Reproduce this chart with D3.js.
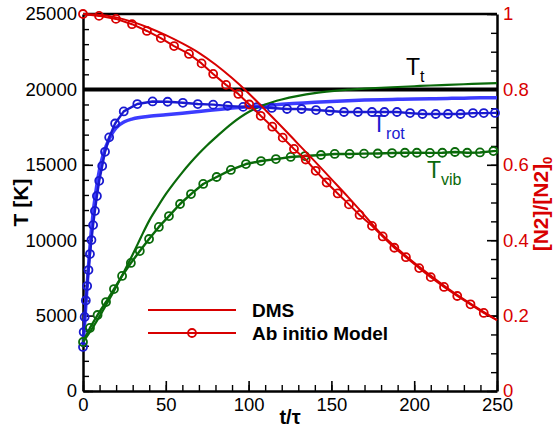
<!DOCTYPE html>
<html>
<head>
<meta charset="utf-8">
<script src="https://cdn.jsdelivr.net/npm/d3@7"></script>
<style>
  body { margin: 0; background: #fff; }
  text { font-family: "Liberation Sans", Arial, sans-serif; }
</style>
</head>
<body>
<svg id="chart"></svg>
<script>
// tick values
var tTicks = [0, 50, 100, 150, 200, 250];
var tempTicks = [0, 5000, 10000, 15000, 20000, 25000];
var fracTicks = [0, 0.2, 0.4, 0.6, 0.8, 1];

// T_t (DMS) - noisy around 20000
var ttT = [0, 50, 100, 150, 200, 250];
var ttVal = [20000, 20000, 20000, 20000, 20000, 20000];

// T_rot, DMS
var dmsRotT = [0, 1, 2, 3, 4, 5, 6, 7, 8, 10, 12, 14, 16, 18, 20, 25, 30, 40, 50, 60, 70, 80, 90, 100, 110, 120, 130, 140, 150, 160, 170, 180, 190, 200, 210, 220, 230, 240, 250];
var dmsRot = [2920, 4500, 6200, 7800, 9300, 10600, 11700, 12600, 13400, 14700, 15600, 16250, 16750, 17150, 17450, 17850, 18050, 18220, 18320, 18420, 18540, 18650, 18760, 18850, 18930, 19010, 19080, 19150, 19200, 19250, 19290, 19320, 19340, 19360, 19380, 19400, 19420, 19440, 19450];

// T_vib, DMS
var dmsVibT = [0, 5, 10, 15, 20, 25, 30, 35, 40, 45, 50, 55, 60, 65, 70, 75, 80, 90, 100, 110, 120, 130, 140, 150, 160, 170, 180, 190, 200, 210, 220, 230, 240, 250];
var dmsVib = [3250, 4050, 4950, 5900, 6900, 7950, 9050, 10200, 11300, 12200, 13050, 13800, 14500, 15150, 15750, 16300, 16800, 17750, 18500, 19000, 19330, 19570, 19750, 19880, 19980, 20050, 20110, 20160, 20210, 20260, 20300, 20340, 20380, 20420];

// [N2]/[N2]0, DMS
var dmsN2T = [0, 10, 20, 30, 40, 50, 60, 70, 80, 90, 100, 110, 120, 130, 140, 150, 160, 170, 180, 190, 200, 210, 220, 230, 240, 250];
var dmsN2 = [1.0, 0.998, 0.991, 0.979, 0.963, 0.944, 0.922, 0.897, 0.866, 0.830, 0.790, 0.746, 0.701, 0.655, 0.609, 0.562, 0.515, 0.466, 0.417, 0.377, 0.340, 0.306, 0.273, 0.243, 0.215, 0.188];

// T_rot, ab initio model
var abRotT = [0, 0.4, 1.0, 1.7, 2.5, 3.3, 4.2, 5.1, 6.1, 7.2, 8.4, 9.8, 11.6, 13.3, 15.8, 19.4, 24.6, 32.8, 42, 51.1, 60.3, 69.3, 78.6, 87.4, 96.7, 105, 114, 123.2, 132, 140.7, 149, 157.6, 166, 174.5, 182, 189.6, 197.5, 205, 213, 220.4, 228, 235.5, 242, 248.8, 250];
var abRot = [2920, 3910, 4910, 6000, 6960, 8020, 9080, 10010, 11000, 11940, 12930, 13940, 14920, 15860, 16820, 17740, 18540, 19030, 19200, 19180, 19110, 19030, 18990, 18910, 18840, 18830, 18770, 18700, 18700, 18630, 18570, 18500, 18500, 18500, 18500, 18500, 18430, 18370, 18370, 18370, 18370, 18430, 18430, 18440, 18440];

// T_vib, ab initio model
var abVibT = [0, 4.2, 8.8, 13.9, 18.7, 23.6, 28.9, 34.3, 39.9, 45.8, 51.9, 58.6, 65.2, 72.6, 80.7, 89.3, 98.4, 107.5, 116.5, 125.4, 134, 143.7, 152, 161, 169.7, 178, 186.6, 194.4, 201.6, 209.5, 217, 224.6, 232, 239.7, 247.8, 250];
var abVib = [3250, 4180, 5040, 5900, 6760, 7630, 8490, 9280, 10080, 10880, 11600, 12400, 13060, 13730, 14190, 14660, 15050, 15250, 15380, 15520, 15580, 15650, 15720, 15720, 15740, 15750, 15780, 15800, 15800, 15790, 15800, 15850, 15800, 15820, 15910, 15920];

// [N2]/[N2]0, ab initio model
var abN2T = [0, 9.7, 19.9, 29.6, 38.6, 47, 55, 64, 71.6, 78.6, 86.4, 93.8, 100.4, 107.3, 114.3, 120.6, 127.4, 134.5, 140.5, 147.1, 153.8, 160.6, 167, 174.5, 181, 188, 195, 203, 210, 218, 226, 234, 242, 250];
var abN2 = [1.0, 0.995, 0.987, 0.973, 0.955, 0.936, 0.915, 0.894, 0.869, 0.841, 0.812, 0.788, 0.760, 0.730, 0.701, 0.672, 0.642, 0.614, 0.584, 0.553, 0.524, 0.495, 0.467, 0.438, 0.41, 0.38, 0.355, 0.326, 0.302, 0.276, 0.252, 0.23, 0.207, 0.188];

var width = 557;
var height = 436;
var margin = { top: 14, right: 60, bottom: 45, left: 83 };

var RED = "#d80000", BLUE_L = "#3c3cff", BLUE_D = "#1a1ad0", GREEN = "#0a6a0a";

var xScale = d3.scaleLinear().domain([0, 250]).range([margin.left, width - margin.right]);
var yScale = d3.scaleLinear().domain([0, 25000]).range([height - margin.bottom, margin.top]);
var nScale = d3.scaleLinear().domain([0, 1]).range([height - margin.bottom, margin.top]);

var svg = d3.select("#chart")
            .attr("width", width)
            .attr("height", height);

function zip(ts, vs) {
  return ts.map(function(t, i) { return { t: t, v: vs[i] }; });
}

function styleAxis(g, color) {
  g.select(".domain").attr("stroke", "#000").attr("stroke-width", 2.5);
  g.selectAll(".tick line").attr("stroke", "#000").attr("stroke-width", 1.6);
  g.selectAll(".tick text")
    .attr("fill", color)
    .style("font-size", "18.5px")
    .style("font-family", "'Liberation Sans', Arial, sans-serif");
}

function range(a, b, step) {
  var out = [];
  for (var v = a; v <= b + 1e-9; v += step) out.push(+v.toFixed(4));
  return out;
}

// minor ticks
svg.append("g")
   .attr("transform", "translate(0," + (height - margin.bottom) + ")")
   .call(d3.axisBottom(xScale).tickValues(range(0, 250, 10)).tickSizeInner(-6).tickSizeOuter(0).tickFormat(""))
   .call(function(g) { g.select(".domain").remove(); g.selectAll("line").attr("stroke-width", 1.4); });
svg.append("g")
   .attr("transform", "translate(" + margin.left + ",0)")
   .call(d3.axisLeft(yScale).tickValues(range(0, 25000, 1000)).tickSizeInner(-6).tickSizeOuter(0).tickFormat(""))
   .call(function(g) { g.select(".domain").remove(); g.selectAll("line").attr("stroke-width", 1.4); });
svg.append("g")
   .attr("transform", "translate(" + (width - margin.right) + ",0)")
   .call(d3.axisRight(nScale).tickValues(range(0, 1, 0.05)).tickSizeInner(-6).tickSizeOuter(0).tickFormat(""))
   .call(function(g) { g.select(".domain").remove(); g.selectAll("line").attr("stroke-width", 1.4); });

// major axes
svg.append("g")
   .attr("transform", "translate(0," + (height - margin.bottom) + ")")
   .call(d3.axisBottom(xScale).tickValues(tTicks).tickSizeInner(-10).tickSizeOuter(0).tickPadding(7))
   .call(function(g) { styleAxis(g, "#000"); });
svg.append("g")
   .attr("transform", "translate(" + margin.left + ",0)")
   .call(d3.axisLeft(yScale).tickValues(tempTicks).tickSizeInner(-10).tickSizeOuter(0).tickPadding(6)
         .tickFormat(d3.format("d")))
   .call(function(g) { styleAxis(g, "#000"); });
svg.append("g")
   .attr("transform", "translate(" + (width - margin.right) + ",0)")
   .call(d3.axisRight(nScale).tickValues(fracTicks).tickSizeInner(-10).tickSizeOuter(0).tickPadding(6)
         .tickFormat(function(d) { return d3.format("")(d); }))
   .call(function(g) { styleAxis(g, RED); });

// top frame line
svg.append("line")
   .attr("x1", xScale(0)).attr("x2", xScale(250))
   .attr("y1", yScale(25000)).attr("y2", yScale(25000))
   .attr("stroke", "#000").attr("stroke-width", 2.5);

var lineT = d3.line()
              .x(function(d) { return xScale(d.t); })
              .y(function(d) { return yScale(d.v); });
var lineTs = d3.line()
              .curve(d3.curveMonotoneX)
              .x(function(d) { return xScale(d.t); })
              .y(function(d) { return yScale(d.v); });
var lineN = d3.line()
              .x(function(d) { return xScale(d.t); })
              .y(function(d) { return nScale(d.v); });
var lineNs = d3.line()
              .curve(d3.curveMonotoneX)
              .x(function(d) { return xScale(d.t); })
              .y(function(d) { return nScale(d.v); });

function addPath(data, gen, color, w) {
  svg.append("path")
     .datum(data)
     .attr("d", gen)
     .attr("fill", "none")
     .attr("stroke", color)
     .attr("stroke-width", w)
     .attr("stroke-linejoin", "round");
}

function addMarkers(data, ys, color) {
  svg.append("g")
     .selectAll("circle")
     .data(data.filter(function(d) { return d.t < 249.5; }))
     .enter().append("circle")
       .attr("cx", function(d) { return xScale(d.t); })
       .attr("cy", function(d) { return ys(d.v); })
       .attr("r", 4)
       .attr("fill", "none")
       .attr("stroke", color)
       .attr("stroke-width", 1.8);
}

// DMS lines
addPath(zip(ttT, ttVal), lineT, "#000", 4);
addPath(zip(dmsRotT, dmsRot), lineTs, BLUE_L, 3.5);
addPath(zip(dmsVibT, dmsVib), lineTs, GREEN, 2.2);

// ab initio lines with markers
addPath(zip(abRotT, abRot), lineT, BLUE_D, 2.4);
addMarkers(zip(abRotT, abRot), yScale, BLUE_D);
addPath(zip(abVibT, abVib), lineT, GREEN, 2.4);
addMarkers(zip(abVibT, abVib), yScale, GREEN);

addPath(zip(dmsN2T, dmsN2), lineNs, RED, 2);
addPath(zip(abN2T, abN2), lineN, RED, 2);
addMarkers(zip(abN2T, abN2), nScale, RED);

// curve labels
function subLabel(x, y, main, sub, color) {
  var t = svg.append("text")
             .attr("x", x).attr("y", y)
             .attr("fill", color)
             .style("font-size", "23px");
  t.append("tspan").text(main);
  t.append("tspan").attr("dy", 7).style("font-size", "16px").text(sub);
}
subLabel(406, 75, "T", "t", "#000");
subLabel(372, 132, "T", "rot", BLUE_D);
subLabel(427, 178, "T", "vib", GREEN);

// axis titles
svg.append("text")
   .attr("x", (margin.left + width - margin.right) / 2)
   .attr("y", 424)
   .attr("text-anchor", "middle")
   .style("font-size", "20px")
   .style("font-weight", "bold")
   .text("t/\u03c4");

svg.append("text")
   .attr("transform", "translate(28," + ((margin.top + height - margin.bottom) / 2) + ") rotate(-90)")
   .attr("text-anchor", "middle")
   .style("font-size", "21px")
   .style("font-weight", "bold")
   .text("T [K]");

var rl = svg.append("text")
   .attr("transform", "translate(548,204) rotate(-90)")
   .attr("text-anchor", "middle")
   .attr("fill", RED)
   .style("font-size", "21px")
   .style("font-weight", "bold");
rl.append("tspan").text("[N2]/[N2]");
rl.append("tspan").attr("dy", 4).style("font-size", "13px").text("0");

// legend
var legend = svg.append("g");
legend.append("line")
      .attr("x1", 148).attr("x2", 236).attr("y1", 310).attr("y2", 310)
      .attr("stroke", RED).attr("stroke-width", 2);
legend.append("line")
      .attr("x1", 148).attr("x2", 236).attr("y1", 333).attr("y2", 333)
      .attr("stroke", RED).attr("stroke-width", 2);
legend.append("circle")
      .attr("cx", 192).attr("cy", 333).attr("r", 4)
      .attr("fill", "none").attr("stroke", RED).attr("stroke-width", 1.8);
legend.append("text")
      .attr("x", 252).attr("y", 317)
      .style("font-size", "19px").style("font-weight", "bold")
      .text("DMS");
legend.append("text")
      .attr("x", 252).attr("y", 340)
      .style("font-size", "19px").style("font-weight", "bold")
      .text("Ab initio Model");
</script>
</body>
</html>
